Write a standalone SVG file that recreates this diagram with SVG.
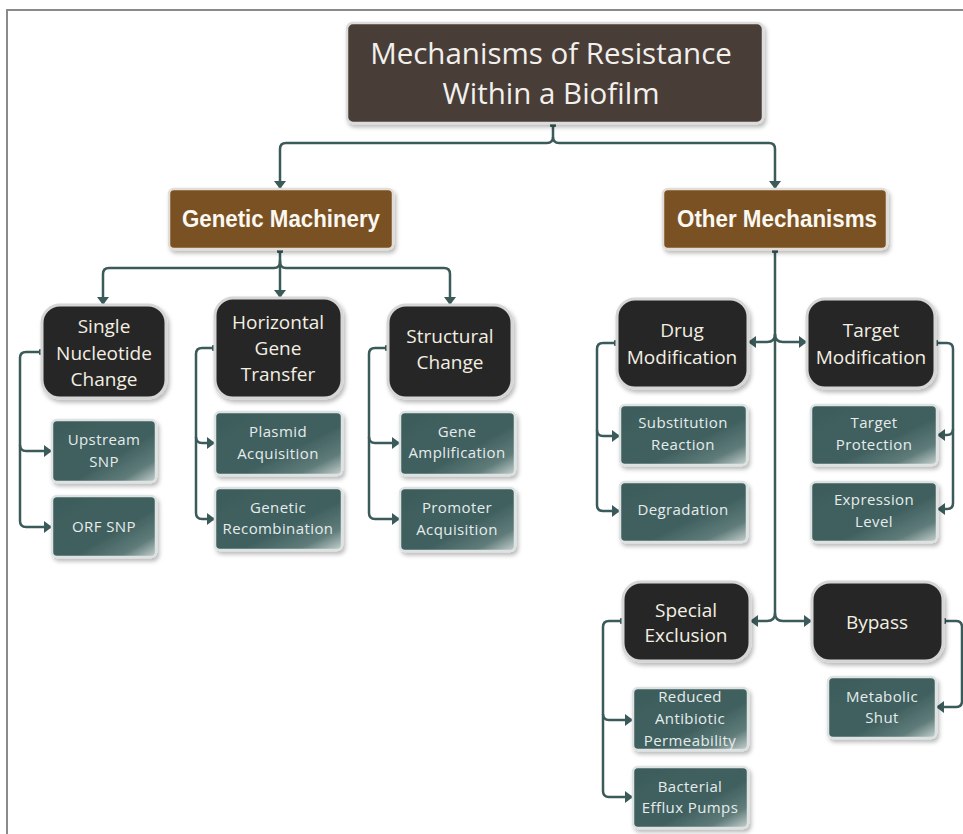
<svg xmlns="http://www.w3.org/2000/svg" width="963" height="834" viewBox="0 0 963 834">
<defs>
<filter id="sh" x="-20%" y="-20%" width="140%" height="150%">
<feDropShadow dx="2" dy="3" stdDeviation="2" flood-color="#000" flood-opacity="0.28"/>
</filter>
<linearGradient id="teal" x1="0" y1="0" x2="1" y2="1">
<stop offset="0" stop-color="#3d5c5b"/>
<stop offset="0.6" stop-color="#416160"/>
<stop offset="0.82" stop-color="#5f7c7a"/>
<stop offset="1" stop-color="#c9d3d1"/>
</linearGradient>
<marker id="arr" viewBox="0 0 8 12" refX="7" refY="6" markerWidth="8" markerHeight="12" markerUnits="userSpaceOnUse" orient="auto">
<path d="M0,0 L8,6 L0,12 z" fill="#3b5a5a"/>
</marker>
<marker id="dot" viewBox="0 0 6 6" refX="3" refY="3" markerWidth="6" markerHeight="6" markerUnits="userSpaceOnUse">
<rect x="0" y="0" width="6" height="6" rx="1" fill="#3b5a5a"/>
</marker>
<style>
.title{fill:#4a3e37;stroke:#dcdcdc;stroke-width:2.5;filter:url(#sh)}
.brown{fill:#7a5120;stroke:#e2ddd6;stroke-width:2.5;filter:url(#sh)}
.dark{fill:#272727;stroke:#d6d6d6;stroke-width:3;filter:url(#sh)}
.teal{fill:url(#teal);stroke:#dde2e2;stroke-width:2.5;filter:url(#sh)}
.t0{font-family:"Open Sans","Noto Sans",sans-serif;font-size:29.5px;fill:#f2f0ec;text-anchor:middle}
.t1{font-family:"Liberation Sans",Arial,sans-serif;font-weight:bold;font-size:24px;fill:#fbf8f2;text-anchor:middle}
.t2{font-family:"Open Sans","Noto Sans",sans-serif;font-size:19px;fill:#f3efe2;text-anchor:middle}
.t3{font-family:"Open Sans","Noto Sans",sans-serif;font-size:15px;fill:#e6ecec;text-anchor:middle;letter-spacing:0.4px}
.c{fill:none;stroke:#3b5a5a;stroke-width:2.5}
.frame{stroke:#8a8a8a;stroke-width:2;fill:none}
</style>
</defs>
<rect x="0" y="0" width="963" height="834" fill="#ffffff"/>
<path class="frame" d="M7,834 V10 H963"/>

<g id="connectors">
<path class="c" marker-start="url(#dot)" marker-end="url(#arr)" d="M553,124 V137 Q553,143 547,143 H286 Q280,143 280,149 V188"/>
<path class="c" marker-end="url(#arr)" d="M553,137 Q553,143 559,143 H769 Q775,143 775,149 V188"/>
<path class="c" marker-start="url(#dot)" marker-end="url(#arr)" d="M280,250 V262 Q280,268 274,268 H109 Q103,268 103,274 V304"/>
<path class="c" marker-end="url(#arr)" d="M280,260 V297"/>
<path class="c" marker-end="url(#arr)" d="M280,262 Q280,268 286,268 H444 Q450,268 450,274 V304"/>
<path class="c" marker-start="url(#dot)" marker-end="url(#arr)" d="M42,352 H26 Q20,352 20,358 V521 Q20,527 26,527 H51"/>
<path class="c" marker-end="url(#arr)" d="M20,445 Q20,451 26,451 H51"/>
<path class="c" marker-start="url(#dot)" marker-end="url(#arr)" d="M215,348 H202 Q196,348 196,354 V513 Q196,519 202,519 H214"/>
<path class="c" marker-end="url(#arr)" d="M196,437 Q196,443 202,443 H214"/>
<path class="c" marker-start="url(#dot)" marker-end="url(#arr)" d="M388,348 H375 Q369,348 369,354 V513 Q369,519 375,519 H399"/>
<path class="c" marker-end="url(#arr)" d="M369,437 Q369,443 375,443 H399"/>
<path class="c" marker-start="url(#dot)" d="M775,250 V613"/>
<path class="c" marker-end="url(#arr)" d="M775,334 Q775,342 767,342 H749"/>
<path class="c" marker-end="url(#arr)" d="M775,334 Q775,342 783,342 H806"/>
<path class="c" marker-end="url(#arr)" d="M775,613 Q775,621 767,621 H751"/>
<path class="c" marker-end="url(#arr)" d="M775,613 Q775,621 783,621 H811"/>
<path class="c" marker-start="url(#dot)" marker-end="url(#arr)" d="M617,343 H603 Q597,343 597,349 V505 Q597,511 603,511 H619"/>
<path class="c" marker-end="url(#arr)" d="M597,430 Q597,436 603,436 H619"/>
<path class="c" marker-start="url(#dot)" marker-end="url(#arr)" d="M935,343 H947 Q953,343 953,349 V503 Q953,509 947,509 H938"/>
<path class="c" marker-end="url(#arr)" d="M953,429 Q953,435 947,435 H938"/>
<path class="c" marker-start="url(#dot)" marker-end="url(#arr)" d="M623,621 H609 Q603,621 603,627 V791 Q603,797 609,797 H632"/>
<path class="c" marker-end="url(#arr)" d="M603,714 Q603,720 609,720 H632"/>
<path class="c" marker-start="url(#dot)" marker-end="url(#arr)" d="M943,621 H956 Q962,621 962,627 V701 Q962,707 956,707 H937"/>
</g>

<g id="title">
<rect class="title" x="347" y="23" width="416" height="100" rx="6"/>
<text class="t0" x="551" y="64">Mechanisms of Resistance</text>
<text class="t0" x="551" y="104">Within a Biofilm</text>
</g>
<g id="genetic-machinery">
<rect class="brown" x="169" y="189" width="224" height="60" rx="5"/>
<text class="t1" x="281" y="227" textLength="198" lengthAdjust="spacingAndGlyphs">Genetic Machinery</text>
</g>
<g id="other-mechanisms">
<rect class="brown" x="663" y="189" width="224" height="60" rx="5"/>
<text class="t1" x="777" y="227" textLength="200" lengthAdjust="spacingAndGlyphs">Other Mechanisms</text>
</g>

<g id="single-nucleotide-change">
<rect class="dark" x="42" y="305" width="124" height="93" rx="18"/>
<text class="t2" x="104" y="333">Single</text>
<text class="t2" x="104" y="360">Nucleotide</text>
<text class="t2" x="104" y="386">Change</text>
</g>
<g id="horizontal-gene-transfer">
<rect class="dark" x="215" y="298" width="127" height="100" rx="18"/>
<text class="t2" x="278" y="329">Horizontal</text>
<text class="t2" x="278" y="355">Gene</text>
<text class="t2" x="278" y="381">Transfer</text>
</g>
<g id="structural-change">
<rect class="dark" x="388" y="305" width="124" height="93" rx="18"/>
<text class="t2" x="450" y="343">Structural</text>
<text class="t2" x="450" y="369">Change</text>
</g>

<g id="upstream-snp">
<rect class="teal" x="52" y="420" width="104" height="62" rx="5"/>
<text class="t3" x="104" y="445">Upstream</text>
<text class="t3" x="104" y="467">SNP</text>
</g>
<g id="orf-snp">
<rect class="teal" x="52" y="496" width="104" height="61" rx="5"/>
<text class="t3" x="104" y="532">ORF SNP</text>
</g>
<g id="plasmid-acquisition">
<rect class="teal" x="215" y="412" width="127" height="63" rx="5"/>
<text class="t3" x="278" y="437">Plasmid</text>
<text class="t3" x="278" y="459">Acquisition</text>
</g>
<g id="genetic-recombination">
<rect class="teal" x="215" y="488" width="127" height="62" rx="5"/>
<text class="t3" x="278" y="513">Genetic</text>
<text class="t3" x="278" y="534">Recombination</text>
</g>
<g id="gene-amplification">
<rect class="teal" x="400" y="412" width="115" height="63" rx="5"/>
<text class="t3" x="457" y="437">Gene</text>
<text class="t3" x="457" y="458">Amplification</text>
</g>
<g id="promoter-acquisition">
<rect class="teal" x="400" y="488" width="115" height="63" rx="5"/>
<text class="t3" x="457" y="513">Promoter</text>
<text class="t3" x="457" y="535">Acquisition</text>
</g>

<g id="drug-modification">
<rect class="dark" x="617" y="299" width="131" height="89" rx="18"/>
<text class="t2" x="682" y="337">Drug</text>
<text class="t2" x="682" y="364">Modification</text>
</g>
<g id="target-modification">
<rect class="dark" x="807" y="299" width="128" height="89" rx="18"/>
<text class="t2" x="871" y="337">Target</text>
<text class="t2" x="871" y="364">Modification</text>
</g>
<g id="substitution-reaction">
<rect class="teal" x="620" y="405" width="127" height="60" rx="5"/>
<text class="t3" x="683" y="428">Substitution</text>
<text class="t3" x="683" y="450">Reaction</text>
</g>
<g id="degradation">
<rect class="teal" x="620" y="482" width="127" height="60" rx="5"/>
<text class="t3" x="683" y="515">Degradation</text>
</g>
<g id="target-protection">
<rect class="teal" x="811" y="405" width="126" height="60" rx="5"/>
<text class="t3" x="874" y="428">Target</text>
<text class="t3" x="874" y="450">Protection</text>
</g>
<g id="expression-level">
<rect class="teal" x="811" y="482" width="126" height="60" rx="5"/>
<text class="t3" x="874" y="505">Expression</text>
<text class="t3" x="874" y="527">Level</text>
</g>

<g id="special-exclusion">
<rect class="dark" x="623" y="582" width="127" height="79" rx="18"/>
<text class="t2" x="686" y="617">Special</text>
<text class="t2" x="686" y="642">Exclusion</text>
</g>
<g id="bypass">
<rect class="dark" x="812" y="582" width="131" height="79" rx="18"/>
<text class="t2" x="877" y="629">Bypass</text>
</g>
<g id="reduced-antibiotic-permeability">
<rect class="teal" x="633" y="688" width="115" height="62" rx="5"/>
<text class="t3" x="690" y="702">Reduced</text>
<text class="t3" x="690" y="724">Antibiotic</text>
<text class="t3" x="690" y="746">Permeability</text>
</g>
<g id="bacterial-efflux-pumps">
<rect class="teal" x="633" y="767" width="115" height="61" rx="5"/>
<text class="t3" x="690" y="792">Bacterial</text>
<text class="t3" x="690" y="813">Efflux Pumps</text>
</g>
<g id="metabolic-shut">
<rect class="teal" x="828" y="677" width="108" height="61" rx="5"/>
<text class="t3" x="882" y="702">Metabolic</text>
<text class="t3" x="882" y="723">Shut</text>
</g>
</svg>
